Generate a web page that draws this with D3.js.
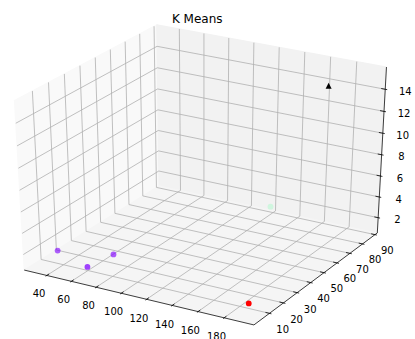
<!DOCTYPE html>
<html>
<head>
<meta charset="utf-8">
<script src="https://cdn.jsdelivr.net/npm/d3@7"></script>
<style>
  html, body { margin: 0; padding: 0; background: #fff; }
  svg { display: block; font-family: "DejaVu Sans", sans-serif; }
</style>
</head>
<body>
<svg id="chart" width="415" height="339"></svg>
<script>
// Clustered samples: coordinates and cluster label
const pointX = [33, 66, 70, 122, 191];
const pointY = [12, 5, 19, 86, 6];
const pointZ = [1.5, 1.5, 1.5, 1.5, 1.5];
const pointCluster = [0, 0, 0, 1, 2];

// Highlighted sample drawn as a black triangle
const markX = [176];
const markY = [75];
const markZ = [15];

// Tick labels
const xTicks = [40, 60, 80, 100, 120, 140, 160, 180];
const yTicks = [10, 20, 30, 40, 50, 60, 70, 80, 90];
const zTicks = [2, 4, 6, 8, 10, 12, 14];
const chartTitle = "K Means";

const svg = d3.select("#chart");

// Axis limits: data extent plus a 5% margin on each side
function paddedExtent(values) {
  const [a, b] = d3.extent(values);
  const m = (b - a) * 0.05;
  return [a - m, b + m];
}
const xs = d3.scaleLinear().domain(paddedExtent(pointX.concat(markX))).range([0, 1]);
const ys = d3.scaleLinear().domain(paddedExtent(pointY.concat(markY))).range([0, 1]);
const zs = d3.scaleLinear().domain(paddedExtent(pointZ.concat(markZ))).range([0, 1]);

// Perspective camera: elevation 30°, azimuth -60°, distance 10
const elev = 30 * Math.PI / 180, azim = -60 * Math.PI / 180, dist = 10;
const nv = [Math.cos(azim) * Math.cos(elev), Math.sin(azim) * Math.cos(elev), Math.sin(elev)];
const dot = (a, b) => a[0] * b[0] + a[1] * b[1] + a[2] * b[2];
const cross = (a, b) => [a[1] * b[2] - a[2] * b[1], a[2] * b[0] - a[0] * b[2], a[0] * b[1] - a[1] * b[0]];
let uv = cross([0, 0, 1], nv);
const ul = Math.hypot(...uv);
uv = uv.map(c => c / ul);
const vv = cross(nv, uv);

function project(f) {
  const d = [f[0] - 0.5, f[1] - 0.5, f[2] - 0.5];
  const w = dist - dot(nv, d);
  return [dot(uv, d) / w, dot(vv, d) / w, -dist / w];
}

// Viewing-plane to pixel scales
const sx = d3.scaleLinear().domain([-0.095, 0.09]).range([-38.2, 432.7]);
const sy = d3.scaleLinear().domain([-0.095, 0.09]).range([346.0, 2.3]);
const toPx = f => { const p = project(f); return [sx(p[0]), sy(p[1]), p[2]]; };

// Box bounds (slightly beyond the limits)
const lo = -1 / 48, hi = 1 + 1 / 48;
const delta = (hi - lo) / 12;
const labelOff = 0.0588;

const line = d3.line();
const polyPath = pts => line(pts.map(p => toPx(p).slice(0, 2))) + "Z";

// Panes: back wall (x = min), back wall (y = max), floor (z = min)
const panes = [
  { pts: [[lo, lo, lo], [lo, hi, lo], [lo, hi, hi], [lo, lo, hi]], fill: "rgb(249,249,249)" },
  { pts: [[lo, hi, lo], [hi, hi, lo], [hi, hi, hi], [lo, hi, hi]], fill: "rgb(242,242,242)" },
  { pts: [[lo, lo, lo], [hi, lo, lo], [hi, hi, lo], [lo, hi, lo]], fill: "rgb(245,245,245)" }
];
svg.append("g").selectAll("path").data(panes).join("path")
  .attr("d", d => polyPath(d.pts))
  .attr("fill", d => d.fill)
  .attr("stroke", d => d.fill)
  .attr("stroke-width", 1);

// Grid lines
const grid = [];
xTicks.forEach(t => { const f = xs(t); grid.push([[f, hi, hi], [f, hi, lo], [f, lo, lo]]); });
yTicks.forEach(t => { const f = ys(t); grid.push([[lo, f, hi], [lo, f, lo], [hi, f, lo]]); });
zTicks.forEach(t => { const f = zs(t); grid.push([[hi, hi, f], [lo, hi, f], [lo, lo, f]]); });
svg.append("g").selectAll("path").data(grid).join("path")
  .attr("d", d => line(d.map(p => toPx(p).slice(0, 2))))
  .attr("fill", "none")
  .attr("stroke", "#b0b0b0")
  .attr("stroke-width", 0.8);

// Axis lines
const axes = [
  [[lo, lo, lo], [hi, lo, lo]],
  [[hi, lo, lo], [hi, hi, lo]],
  [[hi, hi, lo], [hi, hi, hi]]
];
svg.append("g").selectAll("path").data(axes).join("path")
  .attr("d", d => line(d.map(p => toPx(p).slice(0, 2))))
  .attr("stroke", "#000")
  .attr("stroke-width", 0.75);

// Tick marks and labels
const ticks = [];
xTicks.forEach(t => {
  const f = xs(t);
  ticks.push({ a: [f, lo - 0.1 * delta, lo], b: [f, lo + 0.2 * delta, lo], l: [f, lo - labelOff, lo - labelOff], text: t });
});
yTicks.forEach(t => {
  const f = ys(t);
  ticks.push({ a: [hi + 0.1 * delta, f, lo], b: [hi - 0.2 * delta, f, lo], l: [hi + labelOff, f, lo - labelOff], text: t });
});
zTicks.forEach(t => {
  const f = zs(t);
  ticks.push({ a: [hi + 0.1 * delta, hi, f], b: [hi - 0.2 * delta, hi, f], l: [hi + labelOff, hi + labelOff, f], text: t });
});
const tg = svg.append("g");
tg.selectAll("path").data(ticks).join("path")
  .attr("d", d => line([toPx(d.a).slice(0, 2), toPx(d.b).slice(0, 2)]))
  .attr("stroke", "#000")
  .attr("stroke-width", 0.8);
tg.selectAll("text").data(ticks).join("text")
  .attr("x", d => toPx(d.l)[0])
  .attr("y", d => toPx(d.l)[1] + 7.6)
  .attr("text-anchor", "middle")
  .attr("font-size", 10)
  .attr("fill", "#000")
  .text(d => d.text);

// Cluster points, faded with depth
const color = d3.scaleSequential(t => {
  const r = Math.min(1, Math.abs(2 * t - 0.5));
  const g = Math.sin(Math.PI * t);
  const b = Math.cos(Math.PI * t / 2);
  return d3.rgb(r * 255, Math.max(0, g) * 255, Math.max(0, b) * 255).toString();
}).domain(d3.extent(pointCluster));

const pts = pointX.map((x, i) => {
  const p = toPx([xs(x), ys(pointY[i]), zs(pointZ[i])]);
  return { x: p[0], y: p[1], depth: p[2], c: color(pointCluster[i]) };
});
const depthNorm = d3.scaleLinear().domain(d3.extent(pts, d => d.depth)).range([0, 1]);
pts.forEach(d => { d.alpha = 1 - 0.7 * depthNorm(d.depth); });
pts.sort((a, b) => b.depth - a.depth);

svg.append("g").selectAll("circle").data(pts).join("circle")
  .attr("cx", d => d.x)
  .attr("cy", d => d.y)
  .attr("r", 2.9)
  .attr("fill", d => d.c)
  .attr("fill-opacity", d => d.alpha);

// Triangle marker
const tri = markX.map((x, i) => toPx([xs(x), ys(markY[i]), zs(markZ[i])]));
const h = 2.24 + 0.75;
svg.append("g").selectAll("path").data(tri).join("path")
  .attr("d", d => line([[d[0], d[1] - h], [d[0] - h, d[1] + h], [d[0] + h, d[1] + h]]) + "Z")
  .attr("fill", "#000");

// Title
svg.append("text")
  .attr("x", (sx.range()[0] + sx.range()[1]) / 2)
  .attr("y", 23.3)
  .attr("text-anchor", "middle")
  .attr("font-size", 12)
  .attr("fill", "#000")
  .text(chartTitle);
</script>
</body>
</html>
